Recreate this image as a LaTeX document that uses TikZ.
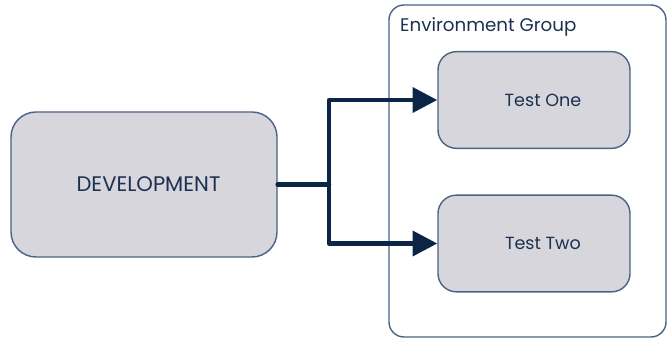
\documentclass[tikz,border=0pt]{standalone}
\usepackage{fontspec}
\setmainfont{Poppins}
\usetikzlibrary{arrows.meta}
\definecolor{navy}{HTML}{0B2547}
\definecolor{edge}{HTML}{4A6382}
\definecolor{boxfill}{HTML}{D6D6DC}
\definecolor{label}{HTML}{1C3150}

\begin{document}
\begin{tikzpicture}[
  x=0.03cm, y=-0.03cm,
  >={Triangle[length=21pt,width=21pt]},
  stage/.style={rectangle, rounded corners=0.75cm, draw=edge, line width=1.2pt, fill=boxfill,
    text=label, font=\fontsize{15}{18}\selectfont, minimum width=7.98cm, minimum height=4.35cm},
  env/.style={stage, rounded corners=0.55cm, minimum width=5.76cm, minimum height=2.9cm},
  flow/.style={navy, line width=3.9pt, line join=round, line cap=round},
]
\useasboundingbox (0,0) rectangle (667,339);

% ---------- environment group ----------
\draw[edge, line width=1.2pt, rounded corners=0.45cm] (389,5) rectangle (666,337);
\node[anchor=north west, text=label, font=\fontsize{15.6}{18}\selectfont, inner sep=0pt] (grp) at (400,17) {Environment Group};

% ---------- stages ----------
\node[stage, font=\fontsize{18}{21}\selectfont] (dev) at (144,184.5) {\hspace*{0.27cm}DEVELOPMENT};
\node[env]   (t1)  at (534,100)   {\hspace*{0.54cm}Test One};
\node[env]   (t2)  at (534,243.5) {\hspace*{0.54cm}Test Two};

% ---------- promotion paths ----------
\coordinate (split) at (329,184.5);
\draw[flow] (dev.east) -- (split);
\foreach \t in {t1, t2}
  \draw[flow, ->] (split) |- (\t.west);

\end{tikzpicture}
\end{document}
